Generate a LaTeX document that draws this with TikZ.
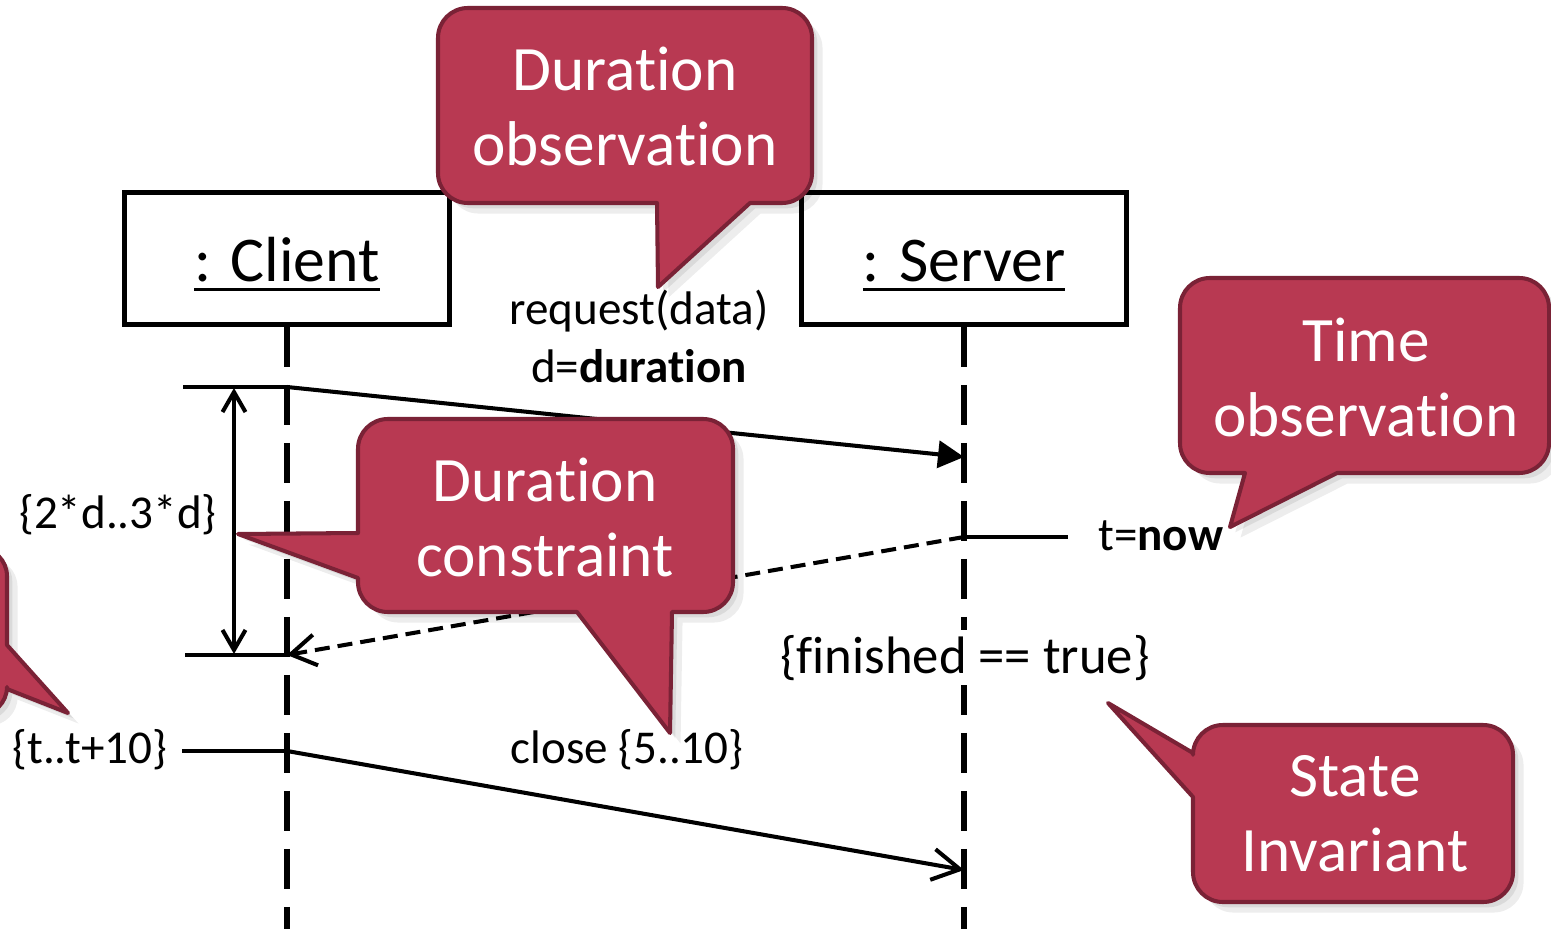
\documentclass[tikz,border=0pt]{standalone}
\usepackage{fontspec}
\setmainfont{Carlito}[Ligatures={NoCommon}]
\usetikzlibrary{arrows.meta, positioning, calc}

\definecolor{calloutfill}{RGB}{184,57,82}
\definecolor{calloutedge}{RGB}{122,34,54}

\newcommand\objname[1]{\setbox0\hbox{#1}\rule{0pt}{31.5pt}\rlap{\rule[-5.3pt]{\wd0}{1.7pt}}\box0}

\tikzset{
  objbox/.style={draw, line width=2.8pt, minimum width=6.5cm, minimum height=2.64cm,
    inner sep=0pt, font=\fontsize{36.3}{44}\selectfont},
  lifeline/.style={line width=2.9pt, dash pattern=on 0.8cm off 0.36cm},
  msgline/.style={line width=2.3pt},
  syncmsg/.style={msgline, -{Triangle[length=0.52cm, width=0.54cm]}},
  replymsg/.style={msgline, dash pattern=on 0.3cm off 0.16cm,
    -{Straight Barb[length=0.5cm, width=0.62cm, line width=2.3pt]}},
  asyncmsg/.style={msgline, -{Straight Barb[length=0.55cm, width=0.62cm, line width=2.3pt]}},
  bothway/.style={msgline, {Straight Barb[length=0.4cm, width=0.46cm, line width=2.3pt]}-{Straight Barb[length=0.4cm, width=0.46cm, line width=2.3pt]}},
  tickline/.style={line width=2.6pt},
  lbl/.style={inner sep=0pt, font=\fontsize{26.8}{32}\selectfont},
  callout/.style={fill=calloutfill, draw=calloutedge, line width=2.3pt, line join=round,
    preaction={fill=black, opacity=0.07, transform canvas={shift={(6pt,-6pt)}}},
    preaction={fill=black, opacity=0.08, transform canvas={shift={(3pt,-3pt)}}}},
  callouttext/.style={text=white, align=center, inner sep=0pt,
    font=\fontsize{36}{42.7}\selectfont}
}

\begin{document}
\begin{tikzpicture}[x=0.02cm, y=-0.02cm]
\useasboundingbox (0,0) rectangle (1551,929);

% objects and lifelines
\node[objbox] (client) at (287,258.5) {\objname{: Client}};
\node[objbox] (server) at (964,258.5) {\objname{: Server}};
\coordinate (clientend) at (287,929);
\coordinate (serverend) at (964,929);
\draw[lifeline] (client.south) -- (clientend);
\draw[lifeline] (server.south) -- (serverend);

% request and reply
\coordinate (reqstart) at (287,387);
\coordinate (reqend) at (964,457);
\coordinate (replystart) at (964,537);
\coordinate (replyend) at (287,655);
\coordinate (ticktop) at (183,387);
\coordinate (tickbot) at (185,655);
\draw[tickline] (ticktop) -- (reqstart);
\draw[tickline] (tickbot) -- (replyend);
\draw[syncmsg] (reqstart) -- (reqend);
\draw[replymsg] (replystart) -- (replyend);
\coordinate (dtop) at (234,388);
\coordinate (dbot) at (234,654);
\draw[bothway] (dtop) -- (dbot);

% time observation
\coordinate (nowtick) at (1068,537);
\draw[tickline] (replystart) -- (nowtick);

% close
\coordinate (closestart) at (287,751);
\coordinate (closeend) at (964,870);
\coordinate (closetick) at (182,751);
\draw[tickline] (closetick) -- (closestart);
\draw[asyncmsg] (closestart) -- (closeend);

% labels
\node[lbl, anchor=base] (reqlbl) at (639,324) {request(data)};
\node[lbl, anchor=base] (durlbl) at (639,382) {d=\textbf{duration}};
\node[lbl, anchor=base] (conlbl) at (118,528) {\{2*d..3*d\}};
\node[lbl, anchor=base west] (nowlbl) at (1098,550) {t=\textbf{now}};
\node[lbl, anchor=base] (tlbl) at (90,763) {\{t..t+10\}};
\node[lbl, anchor=base] (closelbl) at (627,763) {close \{5..10\}};
\node[lbl, anchor=base, fill=white, inner sep=3pt, font=\fontsize{30}{36}\selectfont] (invlbl) at (965,673) {\{finished == true\}};

% callouts
\begin{scope}
\clip (0,0) rectangle (1551,929);
\draw[callout] (-100,548) [rounded corners=16pt] -- (7,548) [sharp corners] -- (7,645) -- (68,713) -- (7,689)
  [rounded corners=16pt] -- (7,715) -- (-100,715) -- cycle;
\draw[callout] (625,8) [rounded corners=17pt] -- (438,8) -- (438,203) [sharp corners] -- (657,203)
  -- (658,287) -- (750,203) [rounded corners=17pt] -- (812,203) -- (812,8) -- cycle;
\draw[callout] (545,419) [rounded corners=17pt] -- (358,419) [sharp corners] -- (358,533)
  -- (238,534) -- (358,578) [rounded corners=17pt] -- (358,612) [sharp corners] -- (577,612)
  -- (670,733) -- (672,612) [rounded corners=17pt] -- (733,612) -- (733,419) -- cycle;
\draw[callout] (1365,278) [rounded corners=17pt] -- (1180,278) -- (1180,473) [sharp corners] -- (1245,473)
  -- (1230,527) -- (1337,473) [rounded corners=17pt] -- (1549,473) -- (1549,278) -- cycle;
\draw[callout] (1353,725) [rounded corners=17pt] -- (1193,725) [sharp corners] -- (1193,753)
  -- (1108,703) -- (1193,797) [rounded corners=17pt] -- (1193,902) -- (1513,902) -- (1513,725) -- cycle;
\end{scope}
\node[callouttext] (durobs) at (625,106) {Duration\\observation};
\node[callouttext] (durcon) at (545,517) {Duration\\constraint};
\node[callouttext] (timeobs) at (1366,377) {Time\\observation};
\node[callouttext] (stateinv) at (1355,814) {State\\Invariant};
\end{tikzpicture}
\end{document}
